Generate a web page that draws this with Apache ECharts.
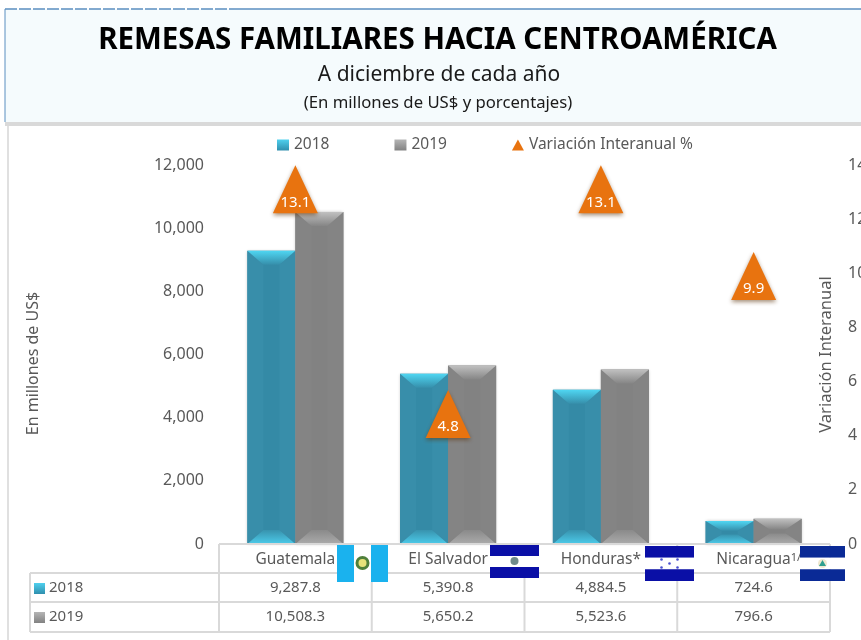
<!DOCTYPE html>
<html>
<head>
<meta charset="utf-8">
<title>Remesas familiares hacia Centroamérica</title>
<style>
  html, body { margin: 0; padding: 0; background: #fff; overflow: hidden; }
  #chart { width: 861px; height: 640px; }
</style>
<script src="https://cdn.jsdelivr.net/npm/echarts@6/dist/echarts.min.js"></script>
</head>
<body>
<div id="chart"></div>
<script>
// datos
const categories = ["Guatemala", "El Salvador", "Honduras*", "Nicaragua"];
const values2018 = [9287.8, 5390.8, 4884.5, 724.6];
const values2019 = [10508.3, 5650.2, 5523.6, 796.6];
const variation = [13.1, 4.8, 13.1, 9.9];
const leftTicks = { min: 0, max: 12000, interval: 2000 };
const rightTicks = { min: 0, max: 14, interval: 2 };

const FONT = "Noto Sans";
const TEXT = "#595959";
const LINE = "#d9d9d9";
const BAR_W = 48;
const PLOT_L = 219, PLOT_R = 830, PLOT_T = 165, PLOT_B = 544;
const COL_W = (PLOT_R - PLOT_L) / categories.length;

const vGrad = (c0, c1) => new echarts.graphic.LinearGradient(0, 0, 0, 1, [
  { offset: 0, color: c0 }, { offset: 1, color: c1 }
]);

// bisel de cada barra, dibujado encima de la barra real
function bevelItem(params, api, palette, side) {
  const top = api.coord([api.value(0), api.value(1)]);
  const bottom = api.coord([api.value(0), 0]);
  const x0 = side === 0 ? top[0] - BAR_W : top[0];
  const x1 = x0 + BAR_W;
  const h = bottom[1] - top[1];
  const b = Math.min(14, h * 0.42);
  const i = 16;
  const poly = (pts, fill) => ({ type: "polygon", shape: { points: pts }, style: { fill: fill } });
  return {
    type: "group",
    children: [
      poly([[x0, top[1]], [x0 + i, top[1] + b], [x0 + i, bottom[1] - b], [x0, bottom[1]]], palette.side),
      poly([[x1, top[1]], [x1 - i, top[1] + b], [x1 - i, bottom[1] - b], [x1, bottom[1]]], palette.side),
      poly([[x0, top[1]], [x1, top[1]], [x1 - i, top[1] + b], [x0 + i, top[1] + b]], vGrad(palette.top0, palette.top1)),
      poly([[x0, bottom[1]], [x1, bottom[1]], [x1 - i, bottom[1] - b], [x0 + i, bottom[1] - b]], vGrad(palette.low0, palette.low1))
    ]
  };
}

const cyan = { body: "#348aa6", top0: "#4fd6f2", top1: "#368fab", low0: "#3893ae", low1: "#4ccbea", side: "#388eaa" };
const gray = { body: "#828282", top0: "#c0c0c0", top1: "#858585", low0: "#8a8a8a", low1: "#ababab", side: "#848484" };

function flag(x, y, w, h, colors, vertical) {
  const parts = [];
  if (vertical) {
    const s = w / 3;
    colors.forEach((c, k) => parts.push({ type: "rect", z: 60, shape: { x: x + k * s, y, width: s, height: h }, style: { fill: c } }));
  } else {
    const s = h / 3;
    colors.forEach((c, k) => parts.push({ type: "rect", z: 60, shape: { x, y: y + k * s, width: w, height: s }, style: { fill: c } }));
  }
  return parts;
}

const dot = (cx, cy, r, fill) => ({ type: "circle", z: 61, shape: { cx, cy, r }, style: { fill } });
const hLine = (x0, x1, y) => ({ type: "line", z: 40, shape: { x1: x0, y1: y, x2: x1, y2: y }, style: { stroke: LINE, lineWidth: 2 } });
const vLine = (x, y0, y1) => ({ type: "line", z: 40, shape: { x1: x, y1: y0, x2: x, y2: y1 }, style: { stroke: LINE, lineWidth: 2 } });
const cellText = (x, y, text, align) => ({
  type: "text", z: 45, x, y,
  style: { text, fill: TEXT, font: "15px '" + FONT + "'", align: align || "center", verticalAlign: "middle" }
});
const fmt = (v) => v.toLocaleString("en-US", { minimumFractionDigits: 1, maximumFractionDigits: 1 });

function buildGraphics() {
  const els = [
    // cabecera
    { type: "rect", z: -5, shape: { x: 5, y: 9, width: 856, height: 113 }, style: { fill: "#f5fbfd" } },
    { type: "line", z: -4, shape: { x1: 5, y1: 9, x2: 235, y2: 9 }, style: { stroke: "#5b8fc0", lineWidth: 1.5, lineDash: [12, 2] } },
    { type: "line", z: -4, shape: { x1: 235, y1: 9, x2: 861, y2: 9 }, style: { stroke: "#5b8fc0", lineWidth: 1.5 } },
    { type: "line", z: -4, shape: { x1: 5, y1: 9, x2: 5, y2: 122 }, style: { stroke: "#5b8fc0", lineWidth: 1 } },
    { type: "rect", z: -4, shape: { x: 5, y: 122, width: 856, height: 4 }, style: { fill: "#d9d9d9" } },
    { type: "line", z: -4, shape: { x1: 8, y1: 126, x2: 8, y2: 640 }, style: { stroke: "#e0e0e0", lineWidth: 2 } },
    // tabla
    hLine(PLOT_L, PLOT_R, 544),
    hLine(30, PLOT_R, 573),
    hLine(30, PLOT_R, 602),
    hLine(30, PLOT_R, 632),
    vLine(30, 573, 632)
  ];
  for (let k = 0; k <= categories.length; k++) {
    els.push(vLine(PLOT_L + k * COL_W, 544, 632));
  }
  const rows = [
    { name: "2018", vals: values2018, y: 588, color: vGrad("#4fd0ee", "#2f8fae") },
    { name: "2019", vals: values2019, y: 617, color: vGrad("#b5b5b5", "#828282") }
  ];
  rows.forEach((row) => {
    els.push({ type: "rect", z: 45, shape: { x: 34, y: row.y - 5, width: 11, height: 11 }, style: { fill: row.color } });
    els.push(cellText(49, row.y, row.name, "left"));
    row.vals.forEach((v, k) => els.push(cellText(PLOT_L + (k + 0.5) * COL_W, row.y, fmt(v))));
  });
  // banderas
  els.push(...flag(337, 545, 51, 37, ["#1ab2ee", "#ffffff", "#1ab2ee"], true));
  els.push(dot(362.5, 563, 7, "#4f7f3a"), dot(362.5, 563, 4, "#e8e27a"));
  els.push(...flag(490, 545, 49, 33, ["#0a0fa6", "#ffffff", "#0a0fa6"]));
  els.push(dot(514.5, 561, 4, "#6f8a8a"));
  els.push(...flag(645, 546, 49, 35, ["#0a0fa6", "#ffffff", "#0a0fa6"]));
  [[-8, -4], [8, -4], [0, 0], [-8, 4], [8, 4]].forEach((p) => els.push(dot(669.5 + p[0], 563.5 + p[1], 1.3, "#4a50d0")));
  els.push(...flag(800, 546, 45, 35, ["#0a2a96", "#ffffff", "#0a2a96"]));
  els.push(dot(822.5, 563.5, 4.5, "#efe8d0"));
  els.push({ type: "polygon", z: 62, shape: { points: [[822.5, 560], [826, 566], [819, 566]] }, style: { fill: "#2f9f8f" } });
  return els;
}

const chartInstance = echarts.init(document.getElementById("chart"));

const option = {
  animation: false,
  textStyle: { fontFamily: FONT },
  title: [
    { text: "REMESAS FAMILIARES HACIA CENTROAMÉRICA", left: 432.5, top: 21, textAlign: "center",
      textStyle: { fontFamily: FONT, fontSize: 29.5, fontWeight: "bold", color: "#000" } },
    { text: "A diciembre de cada año", left: 434, top: 60, textAlign: "center",
      textStyle: { fontFamily: FONT, fontSize: 21, fontWeight: "normal", color: "#1a1a1a" } },
    { text: "(En millones de US$ y porcentajes)", left: 433, top: 90, textAlign: "center",
      textStyle: { fontFamily: FONT, fontSize: 16.7, fontWeight: "normal", color: "#1a1a1a" } }
  ],
  legend: {
    left: 272, top: 132, itemGap: 65, itemWidth: 12, itemHeight: 11,
    data: [
      { name: "2018", icon: "rect", itemStyle: { color: vGrad("#4fd0ee", "#2f8fae") } },
      { name: "2019", icon: "rect", itemStyle: { color: vGrad("#b5b5b5", "#828282") } },
      { name: "Variación Interanual %", icon: "triangle" }
    ],
    textStyle: { color: TEXT, fontSize: 15.5 }
  },
  grid: { left: PLOT_L, right: 861 - PLOT_R, top: PLOT_T, bottom: 640 - PLOT_B, outerBoundsMode: "none" },
  xAxis: {
    type: "category",
    data: categories,
    axisLine: { show: false },
    axisTick: { show: false },
    axisLabel: {
      margin: 8, color: TEXT, fontSize: 15.5, interval: 0,
      formatter: (name) => name === "Nicaragua" ? "{nic|" + name + "}{sup|1/}" : name,
      rich: {
        nic: { fontSize: 15.5, color: TEXT, padding: [0, 0, 0, 10] },
        sup: { fontSize: 11, color: TEXT, verticalAlign: "top", lineHeight: 14 }
      }
    }
  },
  yAxis: [
    {
      type: "value", ...leftTicks,
      name: "En millones de US$", nameLocation: "middle", nameGap: 178, nameRotate: 90,
      nameTextStyle: { color: TEXT, fontSize: 16, padding: [0, 18, 0, 0] },
      splitLine: { show: false }, axisLine: { show: false }, axisTick: { show: false },
      axisLabel: { color: TEXT, fontSize: 16, margin: 15, formatter: (v) => v.toLocaleString("en-US") }
    },
    {
      type: "value", ...rightTicks,
      name: "Variación Interanual", nameLocation: "middle", nameGap: -12, nameRotate: 90,
      nameMoveOverlap: false,
      nameTextStyle: { color: TEXT, fontSize: 16.5 },
      splitLine: { show: false }, axisLine: { show: false }, axisTick: { show: false },
      axisLabel: { color: TEXT, fontSize: 16, margin: 18 }
    }
  ],
  series: [
    {
      name: "2018", type: "bar", data: values2018, barWidth: BAR_W, barGap: 0, z: 2,
      itemStyle: { color: cyan.body, shadowBlur: 3, shadowColor: "rgba(0,0,0,0.25)" }
    },
    {
      name: "2019", type: "bar", data: values2019, barWidth: BAR_W, barGap: 0, z: 2,
      itemStyle: { color: gray.body, shadowBlur: 3, shadowColor: "rgba(0,0,0,0.25)" }
    },
    {
      type: "custom", silent: true, z: 3,
      data: values2018.map((v, k) => [k, v]),
      encode: { x: 0, y: 1 },
      renderItem: (params, api) => bevelItem(params, api, cyan, 0)
    },
    {
      type: "custom", silent: true, z: 3,
      data: values2019.map((v, k) => [k, v]),
      encode: { x: 0, y: 1 },
      renderItem: (params, api) => bevelItem(params, api, gray, 1)
    },
    {
      name: "Variación Interanual %", type: "line", yAxisIndex: 1, data: variation, z: 5,
      symbol: "triangle", symbolSize: [45, 48],
      lineStyle: { width: 0, opacity: 0 },
      itemStyle: { color: "#e8730f", shadowBlur: 4, shadowOffsetY: 2, shadowColor: "rgba(90,50,10,0.55)" },
      label: {
        show: true, position: "inside", offset: [0, 13], color: "#fff", fontSize: 15,
        formatter: (p) => p.value.toFixed(1)
      }
    }
  ],
  graphic: { elements: buildGraphics() }
};

chartInstance.setOption(option);
</script>
</body>
</html>
